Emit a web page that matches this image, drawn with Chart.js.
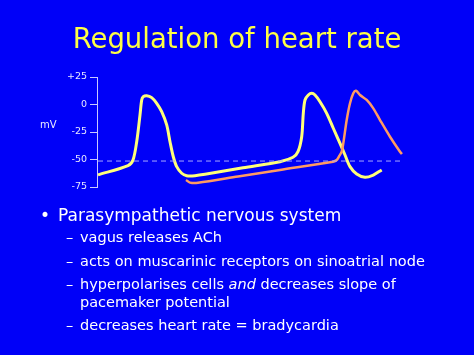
<!DOCTYPE html>
<html>
<head>
<meta charset="utf-8">
<script src="https://cdn.jsdelivr.net/npm/chart.js@4"></script>
<style>
  html,body{margin:0;padding:0;background:#0000f8;width:474px;height:355px;overflow:hidden;}
  #wrap{position:absolute;left:0;top:0;width:474px;height:355px;}
  .t{position:absolute;white-space:nowrap;font-family:"DejaVu Sans",sans-serif;color:#ffffff;}
  #title{left:0;width:474px;text-align:center;top:22px;font-size:27.5px;color:#ffff44;}
  #mv{left:40px;top:119px;font-size:10px;color:#e8e8ff;}
  .b1{font-size:17px;}
  .b2{font-size:14.5px;}
</style>
</head>
<body>
<div id="wrap"><canvas id="c" width="474" height="355"></canvas></div>
<div class="t" id="title">Regulation of heart rate</div>
<div class="t" id="mv">mV</div>
<div class="t b1" style="left:40px;top:205px;">•</div>
<div class="t b1" style="left:58px;top:205px;">Parasympathetic nervous system</div>
<div class="t b2" style="left:66px;top:229px;">–</div>
<div class="t b2" style="left:80px;top:229px;">vagus releases ACh</div>
<div class="t b2" style="left:66px;top:253px;">–</div>
<div class="t b2" style="left:80px;top:253px;">acts on muscarinic receptors on sinoatrial node</div>
<div class="t b2" style="left:66px;top:276px;">–</div>
<div class="t b2" style="left:80px;top:276px;">hyperpolarises cells <i>and</i> decreases slope of</div>
<div class="t b2" style="left:80px;top:294px;">pacemaker potential</div>
<div class="t b2" style="left:66px;top:317px;">–</div>
<div class="t b2" style="left:80px;top:317px;">decreases heart rate = bradycardia</div>
<script>
// time (arbitrary units) and membrane potential (mV)
const normalTime = [0,30,35,38.7,42,43.7,45.3,48.7,53.7,58.7,63.7,68.7,72,75.3,78.7,83.7,88.7,97,107,145,182,195,200,203.7,205.3,207,210.3,213.7,217,222,228.7,235.3,242,247,252,258.7,267,275.3,283.7];
const normalMV   = [-64,-55.6,-50.5,-33.8,-9.5,4.1,7.1,8,6.2,1.1,-6.5,-18.6,-33.8,-47.5,-56.5,-62.5,-64.7,-64.7,-63.5,-57.5,-52,-48,-42.9,-29.3,-8,4.1,8.6,10.2,8.6,2.5,-8,-21.6,-35.3,-45.9,-56.5,-63.2,-66.2,-64.1,-59.5];
const vagalTime  = [88,92,100,140,182,235,238.7,241.3,243.7,245.3,248.7,252,255.3,258,262,268.7,275.3,282,292,302,304];
const vagalMV    = [-68.6,-71,-71.2,-65.5,-59.5,-52,-50.5,-46.8,-42.9,-35.3,-14.1,1.1,10.2,12.5,8.6,4.1,-3.5,-14.1,-29.3,-42.9,-45];
const thresholdTime = [0,302];
const thresholdMV = [-51.4,-51.4];
const yTicks = [25,0,-25,-50,-75];
const yTickLabels = ['+25','0','-25','-50','-75'];

function pts(xs, ys){ return xs.map((x,i)=>({x:x,y:ys[i]})); }

new Chart(document.getElementById('c'), {
  type:'line',
  data:{datasets:[
    {data:pts(thresholdTime,thresholdMV),borderColor:'#a8a8ff',borderWidth:1,borderDash:[5,4],pointRadius:0,tension:0},
    {data:pts(vagalTime,vagalMV),borderColor:'#ff9a62',borderWidth:2.5,pointRadius:0,tension:0.3},
    {data:pts(normalTime,normalMV),borderColor:'#ffff78',borderWidth:3,pointRadius:0,tension:0.3}
  ]},
  options:{
    responsive:false,animation:false,devicePixelRatio:1,
    layout:{padding:{left:59,top:77,right:66,bottom:168}},
    plugins:{legend:{display:false},tooltip:{enabled:false}},
    scales:{
      x:{type:'linear',min:-1,max:310,display:false},
      y:{type:'linear',min:-75,max:25,
        afterFit(s){s.width=38;},
        afterBuildTicks(s){s.ticks=yTicks.map(v=>({value:v}));},
        grid:{display:true,drawOnChartArea:false,drawTicks:true,tickLength:7,color:'#c8c8ff',lineWidth:1},
        border:{display:true,color:'#c8c8ff',width:1},
        ticks:{color:'#e8e8ff',font:{family:'DejaVu Sans',size:9.5},padding:3,
          callback(v){const i=yTicks.indexOf(v);return i>=0?yTickLabels[i]:'';}}
      }
    }
  }
});
</script>
</body>
</html>
